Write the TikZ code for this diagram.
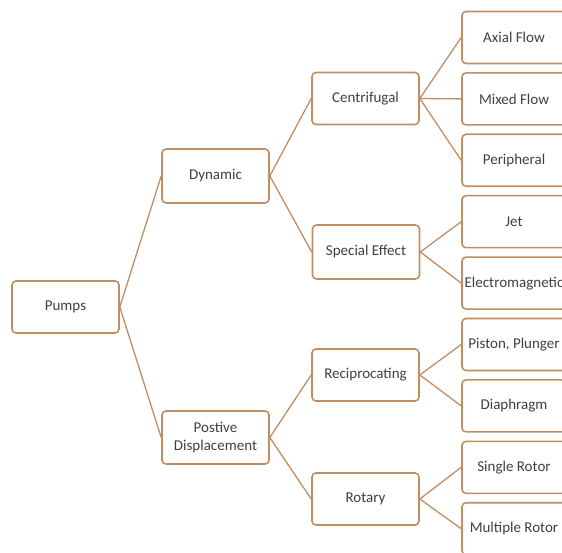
\documentclass[tikz,border=0pt]{standalone}
\usepackage{fontspec}
\setmainfont{Carlito}
\definecolor{edge}{RGB}{192,142,98}
\definecolor{ink}{RGB}{64,64,64}

\begin{document}
\begin{tikzpicture}[x=1pt,y=-1pt,
        box/.style={draw=edge, line width=1.6pt, rounded corners=4pt, fill=white,
            minimum width=107pt, minimum height=52pt, inner sep=0pt,
            text=ink, align=center, font=\fontsize{15}{18}\selectfont},
        leaf/.style={box, minimum width=104pt},
        link/.style={draw=edge, line width=1.3pt}]
        \useasboundingbox (0,0) rectangle (562,553);
        \clip (0,0) rectangle (562,553);

        \node [box] (pumps) at (65.5,307) {Pumps};
        \node [box, minimum height=54pt] (dynamic) at (215.5,176) {Dynamic};
        \node [box, minimum height=53pt] (postive) at (215.5,437.5) {Postive\\Displacement};

        \node [box] (centrifugal) at (365.5,98.5) {Centrifugal};
        \node [box, minimum height=54pt] (special) at (366,252) {Special Effect};
        \node [box] (recip) at (365.5,375) {Reciprocating};
        \node [box] (rotary) at (365.5,499) {Rotary};

        \node [leaf] (axial) at (514,37.5) {Axial Flow};
        \node [leaf] (mixed) at (514,98.9) {Mixed Flow};
        \node [leaf] (peripheral) at (514,160.3) {Peripheral};
        \node [leaf] (jet) at (514,221.7) {Jet};
        \node [leaf] (electro) at (514,283.1) {Electromagnetic};
        \node [leaf] (piston) at (514,344.5) {Piston, Plunger};
        \node [leaf] (diaphragm) at (514,405.9) {Diaphragm};
        \node [leaf] (single) at (514,467.3) {Single Rotor};
        \node [leaf] (multiple) at (514,528.7) {Multiple Rotor};

        \draw [link] (pumps.east) -- (dynamic.west);
        \draw [link] (pumps.east) -- (postive.west);
        \draw [link] (dynamic.east) -- (centrifugal.west);
        \draw [link] (dynamic.east) -- (special.west);
        \draw [link] (postive.east) -- (recip.west);
        \draw [link] (postive.east) -- (rotary.west);
        \draw [link] (centrifugal.east) -- (axial.west);
        \draw [link] (centrifugal.east) -- (mixed.west);
        \draw [link] (centrifugal.east) -- (peripheral.west);
        \draw [link] (special.east) -- (jet.west);
        \draw [link] (special.east) -- (electro.west);
        \draw [link] (recip.east) -- (piston.west);
        \draw [link] (recip.east) -- (diaphragm.west);
        \draw [link] (rotary.east) -- (single.west);
        \draw [link] (rotary.east) -- (multiple.west);
    \end{tikzpicture}
\end{document}
